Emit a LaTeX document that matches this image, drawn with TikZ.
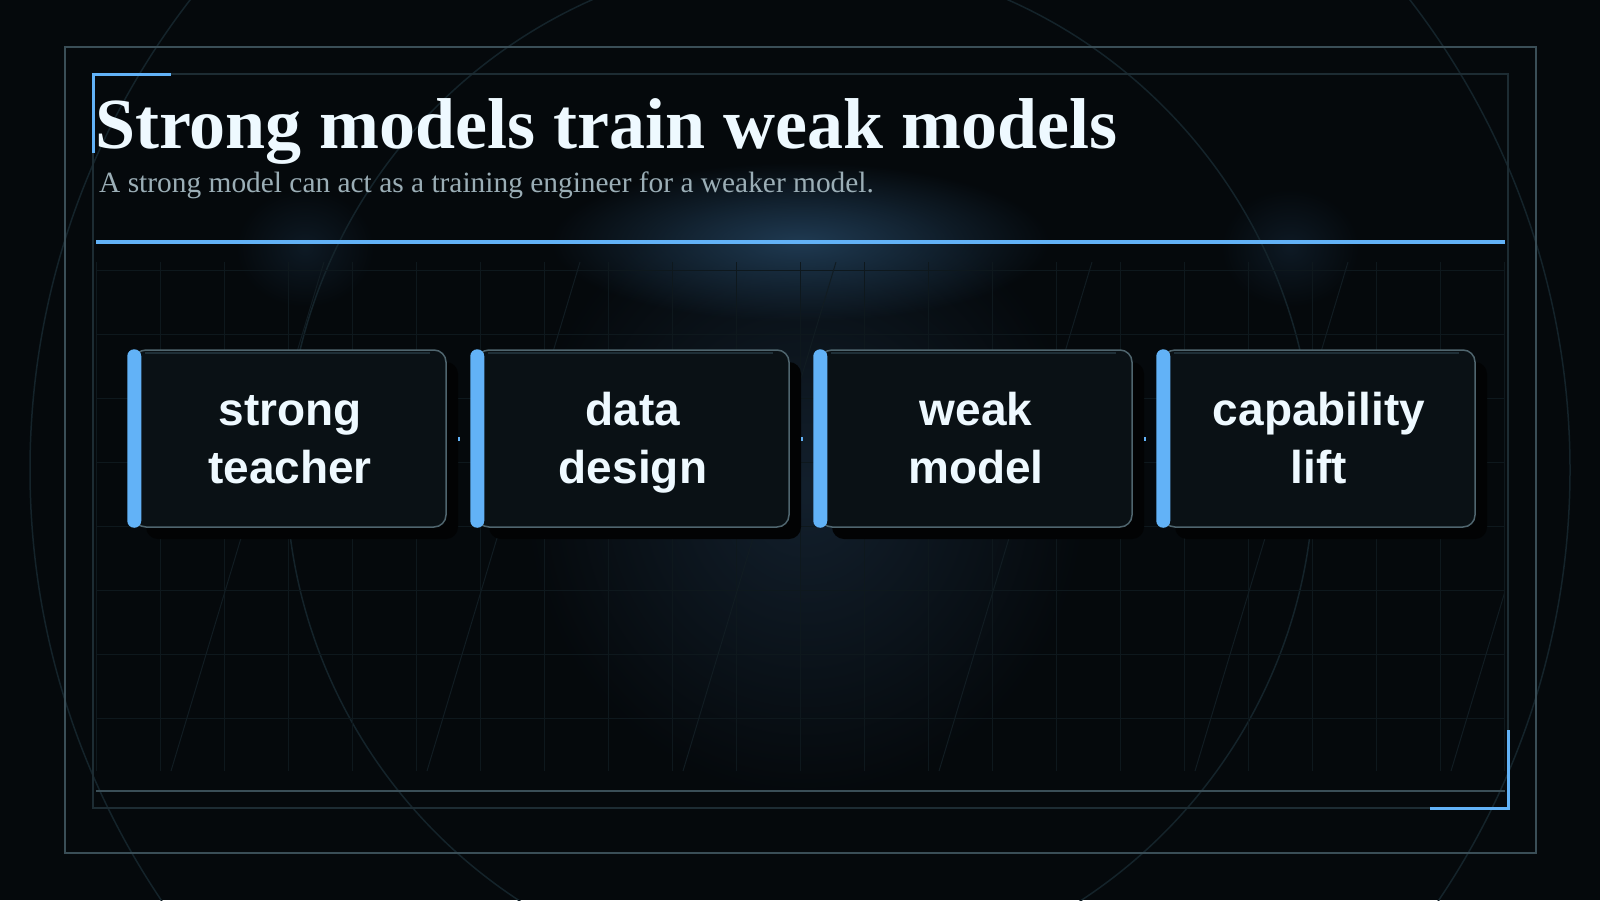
\documentclass[tikz,border=0pt]{standalone}
\usepackage{fontspec}
\setmainfont{Liberation Serif}
\newfontfamily\cardfont{Liberation Sans}
\usetikzlibrary{shadows,fadings}

\definecolor{bgdark}{HTML}{05090C}
\definecolor{glowcore}{HTML}{1F3A52}
\definecolor{glowwide}{HTML}{13202D}
\definecolor{glowside}{HTML}{0E1A25}
\definecolor{frameouter}{HTML}{3A4E57}
\definecolor{frameinner}{HTML}{1D2C33}
\definecolor{ringline}{HTML}{14232A}
\definecolor{gridline}{HTML}{0E181D}
\definecolor{rayline}{HTML}{111C22}
\definecolor{accent}{HTML}{62B2F7}
\definecolor{cardfill}{HTML}{0A1115}
\definecolor{cardedge}{HTML}{4F656E}
\definecolor{cardshine}{HTML}{1F2F37}
\definecolor{cardshade}{HTML}{020304}
\definecolor{titletext}{HTML}{EEF9FF}
\definecolor{subtext}{HTML}{9BAEB6}

\tikzfading[name=glowfade, inner color=transparent!0, outer color=transparent!100]

\tikzset{
  card/.style={draw=cardedge, line width=1.5pt, fill=cardfill, rounded corners=12pt,
    minimum width=312pt, minimum height=177pt, inner sep=0pt, align=center,
    text=titletext, font=\cardfont\bfseries\fontsize{46}{58}\selectfont,
    text height=91pt, text depth=1pt,
    general shadow={fill=cardshade, shadow xshift=12pt, shadow yshift=-12pt}},
  cardbar/.style={fill=accent, rounded corners=7pt},
  shine/.style={draw=cardshine, line width=2pt},
  link/.style={draw=accent, line width=4pt, shorten <=11pt, shorten >=16pt},
  ring/.style={draw=ringline, line width=1.5pt},
  glow/.style={fill=#1, path fading=glowfade},
}

\begin{document}
\begin{tikzpicture}[x=1pt, y=-1pt]
\useasboundingbox (0,0) rectangle (1600,900);
\fill[bgdark] (0,0) rectangle (1600,900);

% glow
\fill[glow=glowwide] (805,490) ellipse [x radius=285, y radius=310];
\fill[glow=glowcore] (800,242) ellipse [x radius=250, y radius=80];
\fill[glow=glowside] (305,248) ellipse [x radius=70, y radius=60];
\fill[glow=glowside] (1290,248) ellipse [x radius=70, y radius=60];

\draw[ring] (800,470) circle [radius=770];
\draw[ring] (800,470) circle [radius=514];

% grid
\foreach \x in {96,160,...,1504} \draw[gridline, line width=1pt] (\x,262) -- (\x,771);
\foreach \y in {270,334,...,718} \draw[gridline, line width=1pt] (96,\y) -- (1504,\y);
\begin{scope}
\clip (96,262) rectangle (1504,771);
\foreach \x in {171,427,...,1451} \draw[rayline, line width=1pt] (\x,771) -- (\x+153,262);
\end{scope}

% frame
\draw[frameouter, line width=2pt] (65,47) rectangle (1536,853);
\draw[frameinner, line width=1.5pt] (93,74) rectangle (1508,808);
\draw[accent, line width=3pt] (171,74) -- (93,74) -- (93,153);
\draw[accent, line width=3pt] (1430,808) -- (1508,808) -- (1508,730);
\draw[frameouter, line width=2pt] (96,791) -- (1505,791);

\node[anchor=base west, inner sep=0pt, text=titletext, font=\bfseries\fontsize{72}{80}\selectfont] (title) at (95,148) {Strong models train weak models};
\node[anchor=base west, inner sep=0pt, text=subtext, font=\fontsize{29.4}{34}\selectfont] (subtitle) at (99,192) {A strong model can act as a training engineer for a weaker model.};
\draw[accent, line width=4pt] (96,242) -- (1505,242);

\node[card] (teacher) at (290,438.5) {strong\\teacher};
\node[card] (design) at (633,438.5) {data\\design};
\node[card] (weakm) at (976,438.5) {weak\\model};
\node[card] (lift) at (1319,438.5) {capability\\lift};

\foreach \n in {teacher,design,weakm,lift} {
  \fill[cardbar] ([xshift=-6pt]\n.north west) rectangle ([xshift=8pt]\n.south west);
  \draw[shine] ([xshift=12pt,yshift=-4pt]\n.north west) -- ([xshift=-17pt,yshift=-4pt]\n.north east);
}

\draw[link] (teacher) -- (design);
\draw[link] (design) -- (weakm);
\draw[link] (weakm) -- (lift);

\end{tikzpicture}
\end{document}
